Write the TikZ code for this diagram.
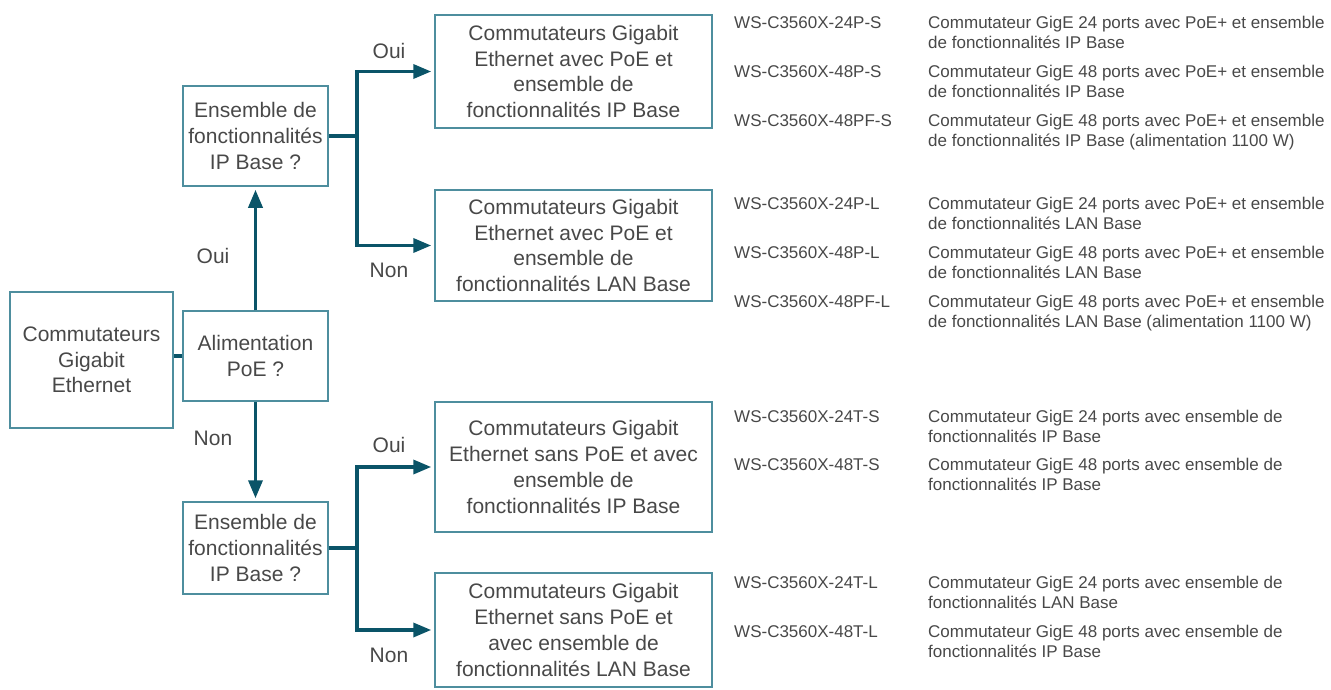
\documentclass[tikz,border=0pt]{standalone}
\usepackage{fontspec}
\setmainfont{Liberation Sans}
\usetikzlibrary{arrows.meta}
\definecolor{flowteal}{RGB}{10,84,104}
\definecolor{boxteal}{RGB}{78,142,158}
\definecolor{txtgray}{RGB}{72,72,72}
\begin{document}
\begin{tikzpicture}[x=1pt,y=1pt,yscale=-1,
	box/.style={draw=boxteal,line width=1.5pt,align=center,text=txtgray,inner sep=0pt,font=\fontsize{21}{25.7}\selectfont},
	flow/.style={draw=flowteal,line width=3.5pt},
	tip/.style={-{Triangle[length=18pt,width=14pt]},shorten >=3pt},
	yesno/.style={text=txtgray,font=\fontsize{21}{25}\selectfont},
	code/.style={anchor=north west,inner sep=0pt,text=txtgray,font=\fontsize{17}{20}\selectfont},
	desc/.style={code,align=left}]
	\useasboundingbox (0,0) rectangle (1331,689);
	
	%Shape: Rectangle [id:root] 
	\node[box,minimum width=163pt,minimum height=136pt] (root) at (91.5,360) {Commutateurs\\Gigabit\\Ethernet};
	%Shape: Rectangle [id:poe] 
	\node[box,minimum width=145pt,minimum height=90pt] (poe) at (255.5,356) {Alimentation\\PoE ?};
	%Shape: Rectangle [id:ipA] 
	\node[box,minimum width=145pt,minimum height=100pt] (ipA) at (255.5,136) {Ensemble de\\fonctionnalités\\IP Base ?};
	%Shape: Rectangle [id:ipB] 
	\node[box,minimum width=145pt,minimum height=92pt] (ipB) at (255.5,548) {Ensemble de\\fonctionnalités\\IP Base ?};
	
	%Shape: Rectangle [id:poeip] 
	\node[box,minimum width=277pt,minimum height=113pt] (poeip) at (573.5,71.5) {Commutateurs Gigabit\\Ethernet avec PoE et\\ensemble de\\fonctionnalités IP Base};
	%Shape: Rectangle [id:poelan] 
	\node[box,minimum width=277pt,minimum height=111pt] (poelan) at (573.5,245.5) {Commutateurs Gigabit\\Ethernet avec PoE et\\ensemble de\\fonctionnalités LAN Base};
	%Shape: Rectangle [id:noip] 
	\node[box,minimum width=277pt,minimum height=130pt] (noip) at (573.5,467) {Commutateurs Gigabit\\Ethernet sans PoE et avec\\ensemble de\\fonctionnalités IP Base};
	%Shape: Rectangle [id:nolan] 
	\node[box,minimum width=277pt,minimum height=114pt] (nolan) at (573.5,630) {Commutateurs Gigabit\\Ethernet sans PoE et\\avec ensemble de\\fonctionnalités LAN Base};
	
	%Straight Lines [id:root-poe] 
	\draw[flow] (poe.west) -- (poe.west -| root.east);
	%Straight Lines [id:poe-ipA] 
	\draw[flow,tip] (poe) -- (ipA);
	%Straight Lines [id:poe-ipB] 
	\draw[flow,tip] (poe) -- (ipB);
	
	%Straight Lines [id:ipA-branch] 
	\coordinate (jA) at (357,136);
	\draw[flow,tip] (ipA.east) -- (jA) |- (poeip.west);
	\draw[flow,tip] (jA) |- (poelan.west);
	%Straight Lines [id:ipB-branch] 
	\coordinate (jB) at (357,548);
	\draw[flow,tip] (ipB.east) -- (jB) |- (noip.west);
	\draw[flow,tip] (jB) |- (nolan.west);
	
	% Text Node
	\node[yesno] (ouiA) at (213,256) {Oui};
	% Text Node
	\node[yesno] (nonA) at (213,438) {Non};
	% Text Node
	\node[yesno] (ouiB) at (389,51) {Oui};
	% Text Node
	\node[yesno] (nonB) at (389,270) {Non};
	% Text Node
	\node[yesno] (ouiC) at (389,445) {Oui};
	% Text Node
	\node[yesno] (nonC) at (389,655) {Non};
	
	% Text Node
	\node[code] (c1) at (734,16) {WS-C3560X-24P-S};
	\node[desc] (d1) at (928,16) {Commutateur GigE 24 ports avec PoE+ et ensemble\\de fonctionnalités IP Base};
	% Text Node
	\node[code] (c2) at (734,65) {WS-C3560X-48P-S};
	\node[desc] (d2) at (928,65) {Commutateur GigE 48 ports avec PoE+ et ensemble\\de fonctionnalités IP Base};
	% Text Node
	\node[code] (c3) at (734,114) {WS-C3560X-48PF-S};
	\node[desc] (d3) at (928,114) {Commutateur GigE 48 ports avec PoE+ et ensemble\\de fonctionnalités IP Base (alimentation 1100 W)};
	% Text Node
	\node[code] (c4) at (734,197) {WS-C3560X-24P-L};
	\node[desc] (d4) at (928,197) {Commutateur GigE 24 ports avec PoE+ et ensemble\\de fonctionnalités LAN Base};
	% Text Node
	\node[code] (c5) at (734,246) {WS-C3560X-48P-L};
	\node[desc] (d5) at (928,246) {Commutateur GigE 48 ports avec PoE+ et ensemble\\de fonctionnalités LAN Base};
	% Text Node
	\node[code] (c6) at (734,295) {WS-C3560X-48PF-L};
	\node[desc] (d6) at (928,295) {Commutateur GigE 48 ports avec PoE+ et ensemble\\de fonctionnalités LAN Base (alimentation 1100 W)};
	% Text Node
	\node[code] (c7) at (734,410) {WS-C3560X-24T-S};
	\node[desc] (d7) at (928,410) {Commutateur GigE 24 ports avec ensemble de\\fonctionnalités IP Base};
	% Text Node
	\node[code] (c8) at (734,458) {WS-C3560X-48T-S};
	\node[desc] (d8) at (928,458) {Commutateur GigE 48 ports avec ensemble de\\fonctionnalités IP Base};
	% Text Node
	\node[code] (c9) at (734,576) {WS-C3560X-24T-L};
	\node[desc] (d9) at (928,576) {Commutateur GigE 24 ports avec ensemble de\\fonctionnalités LAN Base};
	% Text Node
	\node[code] (c10) at (734,625) {WS-C3560X-48T-L};
	\node[desc] (d10) at (928,625) {Commutateur GigE 48 ports avec ensemble de\\fonctionnalités IP Base};
\end{tikzpicture}
\end{document}
